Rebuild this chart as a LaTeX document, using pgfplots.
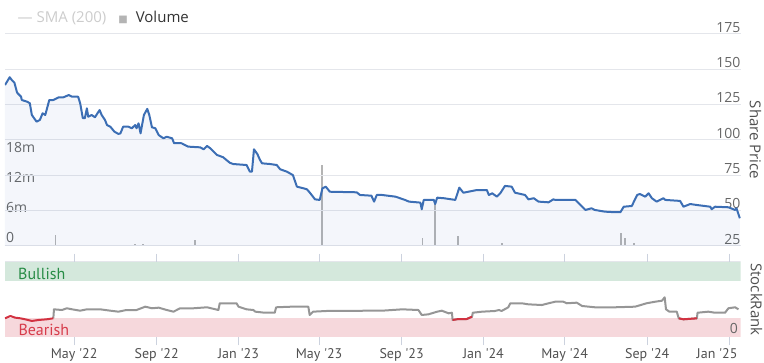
\documentclass[border=0pt]{standalone}
\usepackage{pgfplots}
\usepackage{pgfplotstable}
\pgfplotsset{compat=1.18}
\usepackage{fontspec}
\setmainfont{Open Sans}
\newfontfamily\pts{PT Sans}
\newfontfamily\dejavu{DejaVu Sans}
\definecolor{pricec}{RGB}{60,110,180}
\definecolor{gridc}{RGB}{228,230,235}
\definecolor{volc}{RGB}{180,180,180}
\definecolor{labc}{RGB}{102,102,102}
\definecolor{darkc}{RGB}{80,80,80}
\definecolor{legc}{RGB}{51,51,51}
\definecolor{smac}{RGB}{204,204,204}
\definecolor{bullc}{RGB}{212,232,220}
\definecolor{bearc}{RGB}{246,216,220}
\definecolor{bulltxt}{RGB}{40,140,70}
\definecolor{beartxt}{RGB}{215,60,75}
\definecolor{rankc}{RGB}{150,150,150}
\definecolor{rankred}{RGB}{210,50,65}
\definecolor{tickc}{RGB}{204,210,222}
\newcommand\ap{\symbol{39}}
\newcommand\fs[1]{\fontsize{#1}{#1}\selectfont}

% day = days since 1 Jan 2022
\pgfplotstableread{
day price
17 138.9
24 144.4
27 142.5
31 140.6
35 133.5
41 130.6
42 128.3
50 127.1
54 126.0
57 117.7
64 113.0
69 114.2
73 118.9
77 117.7
83 128.3
89 128.3
97 130.2
104 130.2
112 131.8
117 130.6
126 130.6
129 126.0
133 115.4
136 115.4
139 122.4
141 116.5
146 117.7
151 116.1
158 121.2
161 117.7
166 114.2
169 110.6
174 109.4
180 105.9
186 104.3
189 104.7
193 109.4
201 109.4
206 108.3
211 110.6
213 108.3
216 111.8
219 104.7
224 117.7
229 122.0
232 117.7
236 109.0
241 108.3
246 103.5
253 101.2
258 102.3
266 101.2
269 97.7
280 97.7
290 95.3
308 94.8
313 93.4
318 95.8
323 94.1
333 89.4
342 87.8
352 83.9
357 83.0
377 82.3
382 77.6
385 77.6
388 93.4
393 90.1
397 85.9
400 83.5
412 83.0
422 82.3
427 79.3
437 77.6
446 75.2
452 67.0
462 65.8
467 65.1
472 62.3
479 58.0
486 57.6
490 65.8
495 67.0
501 63.4
541 63.0
546 61.1
563 60.6
567 56.4
571 61.1
579 61.1
599 59.9
613 57.6
619 56.4
636 55.7
638 51.0
641 57.6
656 57.6
658 54.7
661 59.2
671 58.8
688 57.6
694 66.3
700 62.7
720 64.6
735 64.6
738 61.1
743 62.3
750 59.9
755 62.3
762 67.5
772 67.0
777 62.7
792 61.1
797 58.0
805 58.8
812 56.4
827 55.9
834 58.0
837 57.6
867 57.6
872 55.2
882 50.5
891 51.7
896 50.5
911 49.3
926 48.9
934 48.9
939 52.8
951 53.3
959 61.1
963 61.8
971 59.9
976 62.3
981 58.8
988 56.4
998 58.8
1001 57.6
1023 56.9
1028 52.8
1038 54.7
1048 54.0
1068 52.8
1070 51.0
1075 52.8
1095 52.4
1105 50.5
1107 51.7
1112 44.6
}\pricetable

% volume in millions
\pgfplotstableread{
day vol
92 2.2
211 0.4
223 0.4
300 1.2
489 16.2
639 1.6
658 8.4
692 1.9
758 0.5
935 2.5
941 1.5
954 0.6
}\voltable

\pgfplotstableread{
day rank
89 25.1
90 37
102 36.1
109 38.4
117 37
129 35.2
139 37
159 37
174 35.2
186 33.9
198 36.1
213 36.1
226 40.5
236 38.4
246 39.2
258 36.1
268 33.9
278 38.4
298 38.4
318 39.7
335 36.1
337 45
362 45
365 40.5
377 37
387 36.1
390 33.9
404 32.5
419 32.5
421 39.7
444 40.5
469 40.5
471 29.5
476 33.9
496 34.8
526 34.8
556 35.2
579 35.2
609 37
633 36.1
638 29.5
648 30.4
661 33.9
668 35.2
678 31.7
683 32.5
684 22.9
693 24.2
705 24.2
713 27.2
714 32.5
728 33.9
747 34.8
753 36.1
757 34.8
767 39.7
770 45
787 45
797 43.6
817 42.7
827 45
837 47.1
849 47.1
854 45
869 45.8
877 41.4
896 39.7
926 39.7
956 40.5
973 45
986 47.1
996 48.4
1000 52.9
1002 37
1007 33.9
1018 33.9
1021 25.1
1028 23.8
1048 25.1
1049 32.5
1065 33.9
1075 32.5
1090 32.5
1095 38.4
1105 39.7
1110 37
}\ranktable

\begin{document}
\begin{tikzpicture}
\path[use as bounding box] (0pt,0pt) rectangle (764pt,362pt);

% ---- volume (behind) ----
\begin{axis}[
  name=vol, at={(5pt,116pt)}, anchor=south west, scale only axis,
  width=735.5pt, height=212pt,
  xmin=17, xmax=1113, ymin=0, ymax=42.4,
  axis line style={draw=none}, major tick length=0pt,
  xtick=\empty,
  ytick={0,6,12,18}, yticklabels={0,6m,12m,18m},
  /pgf/number format/assume math mode=true,
  yticklabel style={anchor=base west, inner sep=0pt, xshift=1pt, yshift=3.5pt,
    font=\fs{14}, text=labc},
]
\addplot[ycomb, volc, line width=1.6pt] table[x=day,y=vol]{\voltable};
\end{axis}

% ---- price ----
\begin{axis}[
  name=price, at={(5pt,116pt)}, anchor=south west, scale only axis,
  width=735.5pt, height=212pt,
  xmin=17, xmax=1113, ymin=25, ymax=175,
  axis line style={draw=none}, major tick length=0pt,
  xtick=\empty,
  ytick={25,50,75,100,125,150,175},
  ymajorgrids, grid style={gridc, line width=1pt},
  yticklabel pos=right,
  /pgf/number format/assume math mode=true,
  yticklabel style={anchor=base east, inner sep=0pt, yshift=1.7pt,
    font=\fs{14}, text=labc},
]
\addplot[draw=none, fill=pricec, fill opacity=0.06] table[x=day,y=price]{\pricetable} \closedcycle;
\addplot[pricec, line width=2pt, line join=round] table[x=day,y=price]{\pricetable};
\end{axis}

% ---- StockRank ----
\begin{axis}[
  name=rank, at={(5pt,24.7pt)}, anchor=south west, scale only axis,
  width=735.5pt, height=75.6pt,
  xmin=17, xmax=1113, ymin=0, ymax=100,
  axis on top,
  axis line style={draw=none},
  xtick={120,243,365,485,608,730,851,974,1096},
  xticklabels={May \ap22,Sep \ap22,Jan \ap23,May \ap23,Sep \ap23,Jan \ap24,May \ap24,Sep \ap24,\hspace*{-24pt}Jan \ap25},
  tick align=outside, major tick length=8pt,
  x tick style={tickc, line width=1pt},
  xticklabel style={font=\pts\fs{14}, text=darkc},
  ytick={0}, yticklabels={0}, yticklabel pos=right,
  y tick style={draw=none},
  /pgf/number format/assume math mode=true,
  yticklabel style={anchor=base east, inner sep=0pt, xshift=-10.5pt, yshift=3.3pt,
    font=\fs{14}, text=labc},
]
\addplot[draw=none, fill=bullc] coordinates {(17,75) (1113,75) (1113,100) (17,100)} -- cycle;
\addplot[draw=none, fill=bearc] coordinates {(17,0) (1113,0) (1113,25) (17,25)} -- cycle;
\addplot[gridc, line width=1.5pt] coordinates {(17,100) (1113,100)};
\addplot[rankc, line width=2pt, line join=round] table[x=day,y=rank]{\ranktable};
\addplot[rankred, line width=2pt, line join=round] coordinates {(17,25.1) (25,28.2) (32,26) (40,25.1) (47,23.8) (57,21.6) (67,22.9) (79,23.8) (89,25.1)};
\addplot[rankred, line width=2pt, line join=round] coordinates {(684,22.9) (693,24.2) (705,24.2) (713,27.2)};
\addplot[rankred, line width=2pt, line join=round] coordinates {(1021,25.1) (1028,23.8) (1048,25.1)};
\end{axis}

% ---- texts ----
\node[anchor=base west, inner sep=0pt, xshift=10pt, yshift=11pt, font=\fs{15}] at (price.north west)
  {{\color{smac}\,—\ SMA (200)}\hspace{12pt}{\dejavu\fs{10}\color{volc}■}\hspace{8pt}{\color{legc}Volume}};
\node[xshift=15pt, rotate=-90, anchor=center, inner sep=0pt, font=\fs{15}, text=darkc] at (price.east) {Share Price};
\node[xshift=16pt, rotate=-90, anchor=center, inner sep=0pt, font=\fs{15}, text=darkc] at (rank.east) {StockRank};
\node[anchor=base west, inner sep=0pt, xshift=13pt, yshift=58pt, font=\pts\fs{16}, text=bulltxt] at (rank.south west) {Bullish};
\node[anchor=base west, inner sep=0pt, xshift=13.3pt, yshift=1.5pt, font=\pts\fs{16}, text=beartxt] at (rank.south west) {Bearish};
\end{tikzpicture}
\end{document}
